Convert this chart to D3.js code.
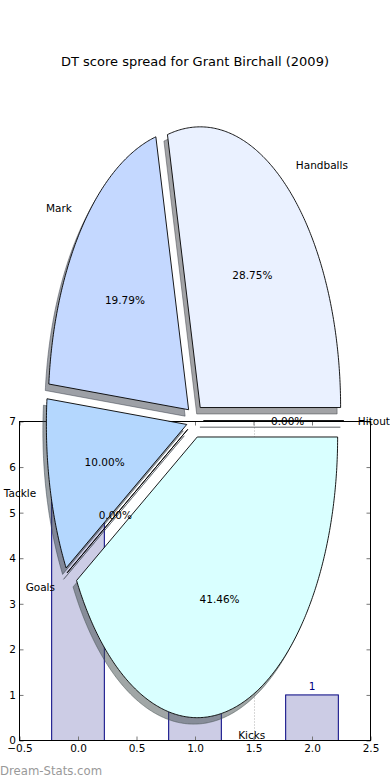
<!DOCTYPE html>
<html><head><meta charset="utf-8">
<script src="https://cdn.jsdelivr.net/npm/d3@7"></script>
<style>body{margin:0;background:#fff}svg{display:block}text{font-family:"DejaVu Sans",sans-serif}</style>
</head><body><svg id="c" width="390" height="780"></svg>
<script>
// ---- data ----
const chartTitle = "DT score spread for Grant Birchall (2009)";
const sliceLabels = ["Hitout", "Handballs", "Mark", "Tackle", "Goals", "Kicks"];
const slicePct = [0.00, 28.75, 19.79, 10.00, 0.00, 41.46];
const sliceColors = ["#e6f7ff", "#eaf1ff", "#c4d8ff", "#b4d7fe", "#cfe6ff", "#d9ffff"];
const sliceExplode = [0.06, 0.06, 0.06, 0.06, 0.06, 0.06];
const barPositions = [0, 1, 2];
const barValues = [7, 3, 1];
const xTickValues = [-0.5, 0.0, 0.5, 1.0, 1.5, 2.0, 2.5];
const yTickValues = [0, 1, 2, 3, 4, 5, 6, 7];
const markerLineX = [1.5];
const watermark = "Dream-Stats.com";

const svg = d3.select("#c");

// ---- bar axes ----
const bx = d3.scaleLinear().domain([-0.5, 2.5]).range([19.5, 370.5]);
const by = d3.scaleLinear().domain([0, 7]).range([740.5, 421.5]);
const gBar = svg.append("g");
gBar.append("rect").attr("x", bx(-0.5)).attr("y", by(7)).attr("width", bx(2.5) - bx(-0.5)).attr("height", by(0) - by(7)).attr("fill", "#fff");

const barW = 0.45;
gBar.selectAll("rect.bar").data(barValues).join("rect").attr("class", "bar")
  .attr("x", (d, i) => bx(barPositions[i] - barW / 2))
  .attr("y", d => by(d))
  .attr("width", bx(barW) - bx(0))
  .attr("height", d => by(0) - by(d))
  .attr("fill", "#cccce5").attr("stroke", "#000080").attr("stroke-width", 1);

gBar.selectAll("line.mk").data(markerLineX).join("line").attr("class", "mk")
  .attr("x1", d => Math.round(bx(d)) + 0.5).attr("x2", d => Math.round(bx(d)) + 0.5)
  .attr("y1", by(0)).attr("y2", by(7))
  .attr("stroke", "#b0b0b0").attr("stroke-width", 1).attr("stroke-dasharray", "1,2");

gBar.selectAll("text.bl").data(barValues).join("text").attr("class", "bl")
  .attr("x", (d, i) => bx(barPositions[i])).attr("y", d => by(d) - 5)
  .attr("text-anchor", "middle").attr("font-size", 10.5).attr("fill", "#000080").text(d => d);

// axes with d3 axis generators (inward ticks)
const tickStyle = g => { g.select(".domain").remove(); g.selectAll(".tick line").attr("stroke", "#777").attr("stroke-width", 1); g.selectAll("text").attr("font-family", "DejaVu Sans").attr("font-size", 10.5).attr("fill", "#000"); };
const fmtX = d => d3.format(".1f")(d).replace("-", "\u2212");
svg.append("g").attr("transform", `translate(0,${by(0)})`)
  .call(d3.axisBottom(bx).tickValues(xTickValues).tickFormat(fmtX).tickSizeInner(-4).tickSizeOuter(0).tickPadding(4)).call(tickStyle);
svg.append("g").attr("transform", `translate(0,${by(7)})`)
  .call(d3.axisTop(bx).tickValues(xTickValues).tickFormat("").tickSizeInner(-4).tickSizeOuter(0)).call(tickStyle);
svg.append("g").attr("transform", `translate(${bx(-0.5)},0)`)
  .call(d3.axisLeft(by).tickValues(yTickValues).tickFormat(d3.format("d")).tickSizeInner(-4).tickSizeOuter(0).tickPadding(3.5)).call(tickStyle);
svg.append("g").attr("transform", `translate(${bx(2.5)},0)`)
  .call(d3.axisRight(by).tickValues(yTickValues).tickFormat("").tickSizeInner(-4).tickSizeOuter(0)).call(tickStyle);
svg.append("rect").attr("x", bx(-0.5)).attr("y", by(7)).attr("width", bx(2.5) - bx(-0.5)).attr("height", by(0) - by(7))
  .attr("fill", "none").attr("stroke", "#000").attr("stroke-width", 1);

// ---- pie axes ----
const px = d3.scaleLinear().domain([-1.25, 1.25]).range([19.5, 370.5]);
const py = d3.scaleLinear().domain([-1.25, 1.25]).range([771.6, 69.9]);
const arcs = d3.pie().sort(null).startAngle(0).endAngle(2 * Math.PI)(slicePct);
const slices = arcs.map((a, i) => {
  const t1 = a.startAngle, t2 = a.endAngle, tm = (t1 + t2) / 2;
  const cx = sliceExplode[i] * Math.cos(tm), cy = sliceExplode[i] * Math.sin(tm);
  return { i, t1, t2, tm, cx, cy };
});
const wedgePts = (s, ox, oy) => {
  const n = Math.max(2, Math.ceil((s.t2 - s.t1) / 0.01));
  const pts = [[s.cx + ox, s.cy + oy]];
  for (let k = 0; k <= n; k++) {
    const t = s.t1 + (s.t2 - s.t1) * k / n;
    pts.push([s.cx + ox + Math.cos(t), s.cy + oy + Math.sin(t)]);
  }
  return pts;
};
const line = d3.line().x(d => px(d[0])).y(d => py(d[1]));
const shX = -0.025, shY = -0.023;
const gPie = svg.append("g");
gPie.selectAll("path.sh").data(slices).join("path").attr("class", "sh")
  .attr("d", s => line(wedgePts(s, shX, shY)) + "Z")
  .attr("fill", s => { const c = d3.rgb(sliceColors[s.i]); return d3.rgb(c.r * 0.3, c.g * 0.3, c.b * 0.3).formatHex(); })
  .attr("fill-opacity", 0.5)
  .attr("stroke", s => { const c = d3.rgb(sliceColors[s.i]); return d3.rgb(c.r * 0.3, c.g * 0.3, c.b * 0.3).formatHex(); })
  .attr("stroke-opacity", 0.5).attr("stroke-width", 1);
gPie.selectAll("path.w").data(slices).join("path").attr("class", "w")
  .attr("d", s => line(wedgePts(s, 0, 0)) + "Z")
  .attr("fill", s => sliceColors[s.i]).attr("stroke", "#000").attr("stroke-width", 0.9).attr("stroke-linejoin", "miter");

gPie.selectAll("text.lab").data(slices).join("text").attr("class", "lab")
  .attr("x", s => px(s.cx + 1.1 * Math.cos(s.tm)))
  .attr("y", s => py(s.cy + 1.1 * Math.sin(s.tm)))
  .attr("text-anchor", s => (s.cx + 1.1 * Math.cos(s.tm)) > 0 ? "start" : "end")
  .attr("dominant-baseline", "central").attr("font-size", 10.5).attr("fill", "#000")
  .text(s => sliceLabels[s.i]);
gPie.selectAll("text.pct").data(slices).join("text").attr("class", "pct")
  .attr("x", s => px(s.cx + 0.6 * Math.cos(s.tm)))
  .attr("y", s => py(s.cy + 0.6 * Math.sin(s.tm)))
  .attr("text-anchor", "middle").attr("dominant-baseline", "central").attr("font-size", 10.5).attr("fill", "#000")
  .text(s => d3.format(".2f")(slicePct[s.i]) + "%");

svg.append("text").attr("x", 195).attr("y", 66).attr("text-anchor", "middle").attr("font-size", 13).attr("fill", "#000").text(chartTitle);
svg.append("text").attr("x", 0).attr("y", 775).attr("font-size", 11.7).attr("fill", "#999").text(watermark);
</script></body></html>
